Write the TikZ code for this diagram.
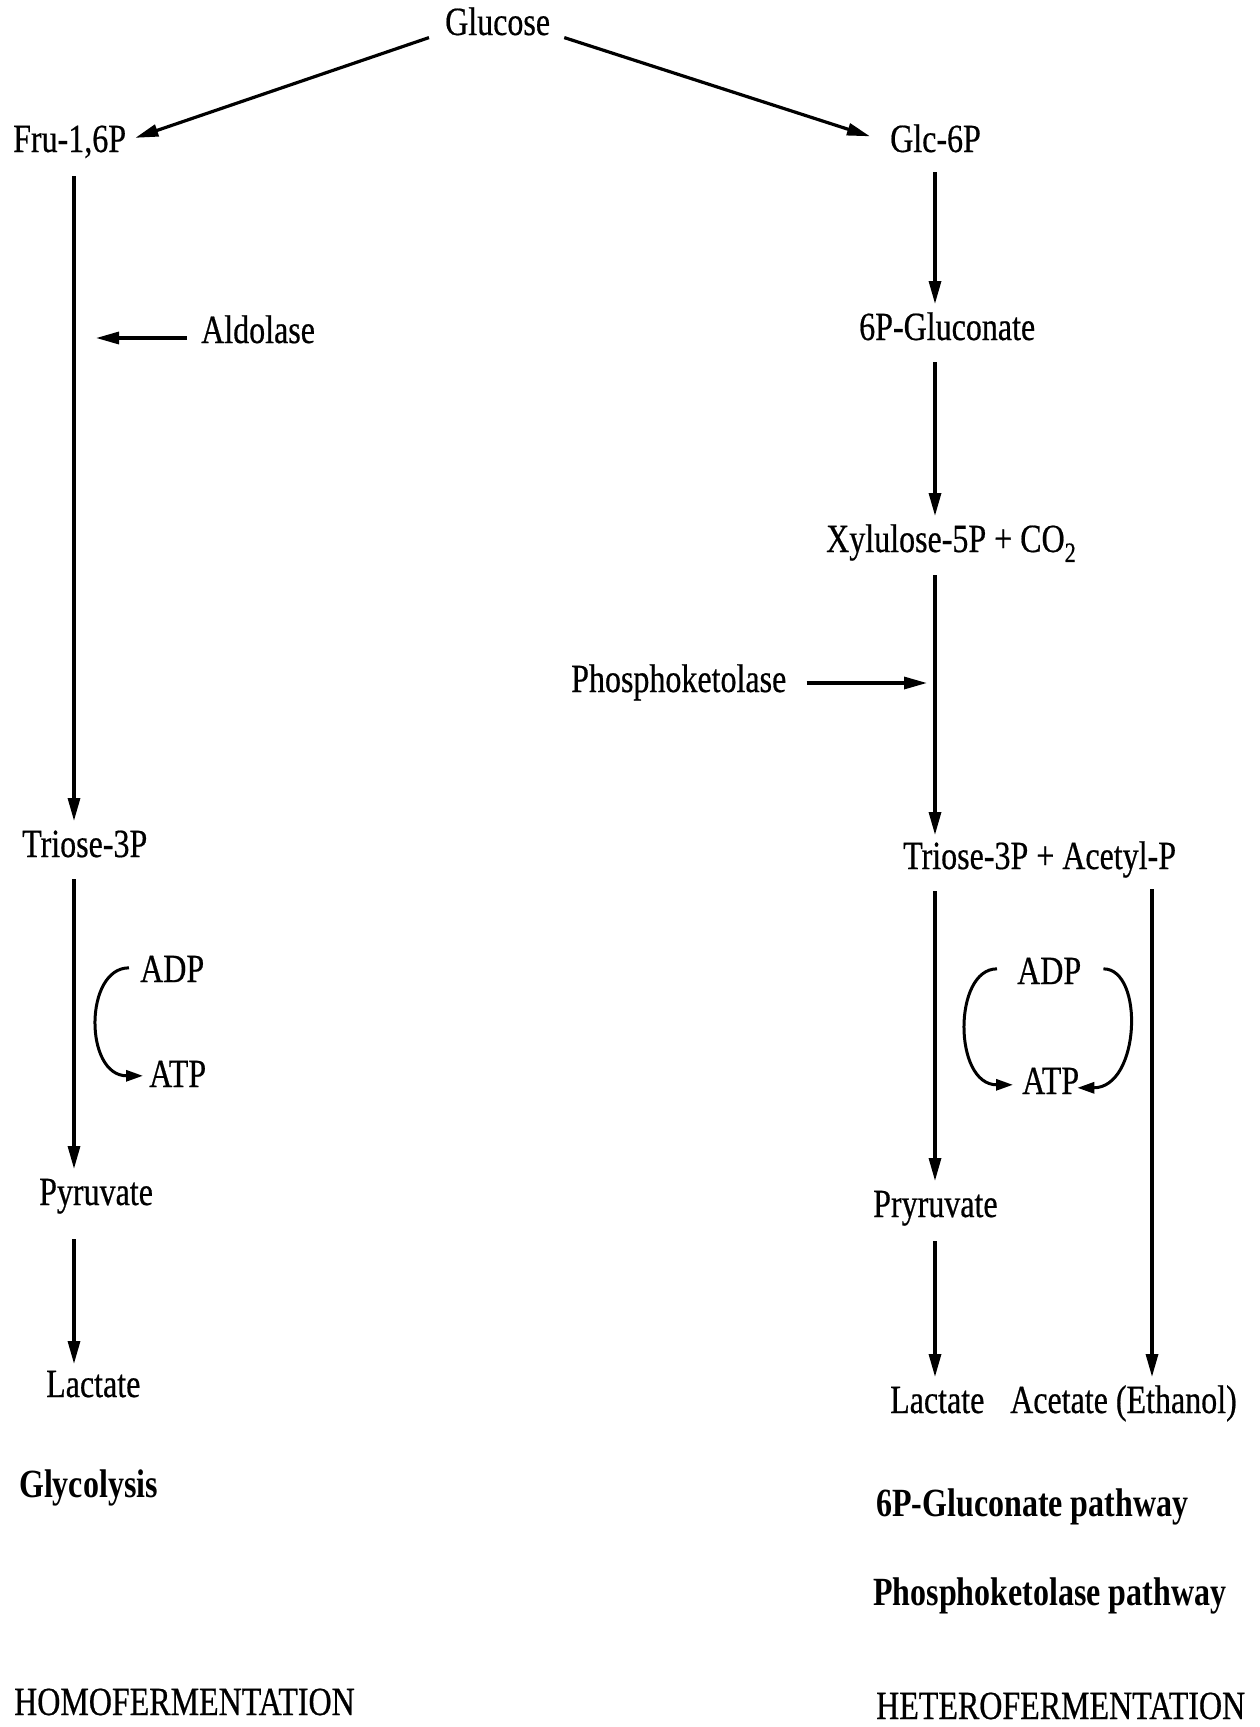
\documentclass[tikz,border=0pt]{standalone}
\usepackage{fontspec}
\setmainfont{Liberation Serif}[FakeStretch=0.8,UprightFeatures={FakeBold=0.5}]
\usetikzlibrary{arrows.meta,calc}
\begin{document}
\begin{tikzpicture}[x=1pt,y=-1pt,
  lbl/.style={inner sep=0pt, anchor=base west, font=\fontsize{40}{48}\selectfont},
  blbl/.style={lbl, font=\fontsize{40}{48}\selectfont\bfseries},
  arr/.style={line width=3.2pt, -{Triangle[length=23pt,width=12pt]}},
  carr/.style={line width=3pt, -{Triangle[length=17pt,width=11pt]}}]
\fill[white] (0,0) rectangle (1260,1727);
\useasboundingbox (0,0) rectangle (1260,1727);
% columns
\coordinate (colL) at (74,0);
\coordinate (colR) at (935,0);
\coordinate (colA) at (1152,0);
% nodes, left
\node[lbl] (glucose) at (445,35) {Glucose};
\node[lbl] (fru) at (13,152) {Fru-1,6P};
\node[lbl] (glc) at (890,152) {Glc-6P};
\node[lbl] (aldolase) at (201,343) {Aldolase};
\node[lbl] (trioseL) at (22,857) {Triose-3P};
\node[lbl] (adpL) at (140,982) {ADP};
\node[lbl] (atpL) at (149,1087) {ATP};
\node[lbl] (pyrL) at (39,1205) {Pyruvate};
\node[lbl] (lacL) at (46,1397) {Lactate};
\node[blbl] (glyco) at (19,1497) {Glycolysis};
\node[lbl] (homo) at (14,1715) {HOMOFERMENTATION};
% nodes, right
\node[lbl] (gluconate) at (859,340) {6P-Gluconate};
\node[lbl] (xylu) at (826,552) {Xylulose-5P + CO\textsubscript{2}};
\node[lbl] (pketo) at (571,692) {Phosphoketolase};
\node[lbl] (trioseR) at (903,869) {Triose-3P + Acetyl-P};
\node[lbl] (adpR) at (1017,984) {ADP};
\node[lbl] (atpR) at (1022,1094) {ATP};
\node[lbl] (pyrR) at (873,1217) {Pryruvate};
\node[lbl] (lacR) at (890,1413) {Lactate};
\node[lbl] (acet) at (1010,1413) {Acetate (Ethanol)};
\node[blbl] (gpath) at (876,1516) {6P-Gluconate pathway};
\node[blbl] (ppath) at (873,1605) {Phosphoketolase pathway};
\node[lbl] (hetero) at (876,1719) {HETEROFERMENTATION};
% top arrows
\draw[arr] ($(glucose.south west)+(-16,2)$) -- ($(fru.east)+(9,-4)$);
\draw[arr] ($(glucose.south east)+(14,2)$) -- ($(glc.west)+(-20,-2)$);
% left column
\draw[arr] ($(fru.base -| colL)+(0,24)$) -- ($(trioseL.base -| colL)+(0,-36)$);
\draw[arr] ($(aldolase.base west)+(-14,-5)$) -- ($(aldolase.base west -| colL)+(22,-5)$);
\draw[arr] ($(trioseL.base -| colL)+(0,22)$) -- ($(pyrL.base -| colL)+(0,-36)$);
\draw[arr] ($(pyrL.base -| colL)+(0,34)$) -- ($(lacL.base -| colL)+(0,-33)$);
\draw[carr] ($(adpL.west)+(-11,-1)$) .. controls +(-45,0) and +(-59,0) .. ($(atpL.west)+(-6,2)$);
% right column
\draw[arr] ($(glc.base -| colR)+(0,20)$) -- ($(gluconate.base -| colR)+(0,-36)$);
\draw[arr] ($(gluconate.base -| colR)+(0,22)$) -- ($(xylu.base -| colR)+(0,-36)$);
\draw[arr] ($(xylu.base -| colR)+(0,23)$) -- ($(trioseR.base -| colR)+(0,-34)$);
\draw[arr] ($(pketo.base east)+(20,-9)$) -- ($(pketo.base east -| colR)+(-8,-9)$);
\draw[arr] ($(trioseR.base -| colR)+(0,22)$) -- ($(pyrR.base -| colR)+(0,-36)$);
\draw[arr] ($(trioseR.base -| colA)+(0,20)$) -- ($(acet.base -| colA)+(0,-36)$);
\draw[arr] ($(pyrR.base -| colR)+(0,24)$) -- ($(lacR.base -| colR)+(0,-36)$);
\draw[carr] ($(adpR.west)+(-20,-2)$) .. controls +(-44,0) and +(-60,0) .. ($(atpR.west)+(-9,4)$);
\draw[carr] ($(adpR.east)+(22,-2)$) .. controls +(41,0) and +(63,0) .. ($(atpR.east)+(-2,7)$);
\end{tikzpicture}
\end{document}
